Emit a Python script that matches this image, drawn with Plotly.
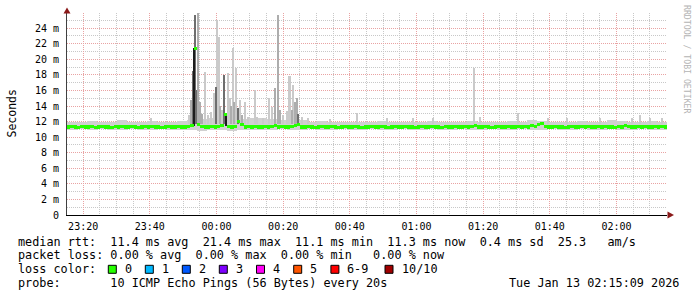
import plotly.graph_objects as go
from datetime import datetime, timedelta

# ---------------- data ----------------
start_time = "2026-01-12 23:15:09"
end_time = "2026-01-13 02:15:09"

# median rtt (ms), one value per minute from 23:15:09
median_rtt = [
    11.3, 11.4, 11.3, 11.2, 11.4, 11.3, 11.3, 11.4, 11.2, 11.3, 11.4, 11.3, 11.3, 11.2, 11.4, 11.3, 11.4, 11.3, 11.3, 11.4,
    11.3, 11.2, 11.3, 11.4, 11.3, 11.4, 11.3, 11.3, 11.2, 11.3, 11.4, 11.3, 11.3, 11.4, 11.3, 11.3, 11.4, 11.5, 21.4, 11.6,
    11.4, 11.3, 11.3, 11.4, 11.3, 11.4, 11.5, 12.9, 11.4, 11.3, 11.4, 12.0, 11.6, 11.3, 11.4, 11.3, 11.4, 11.3, 11.3, 11.4,
    11.3, 11.4, 11.5, 11.3, 11.4, 11.3, 11.3, 11.4, 11.5, 11.6, 11.3, 11.3, 11.4, 11.3, 11.2, 11.3, 11.4, 11.3, 11.3, 11.4,
    11.3, 11.2, 11.3, 11.4, 11.3, 11.3, 11.4, 11.3, 11.2, 11.3, 11.3, 11.4, 11.3, 11.3, 11.4, 11.3, 11.2, 11.3, 11.4, 11.3,
    11.3, 11.4, 11.3, 11.3, 11.2, 11.3, 11.4, 11.3, 11.3, 11.4, 11.3, 11.3, 11.2, 11.4, 11.3, 11.3, 11.4, 11.3, 11.3, 11.4,
    11.3, 11.4, 11.5, 11.3, 11.3, 11.4, 11.3, 11.2, 11.3, 11.4, 11.3, 11.3, 11.4, 11.3, 11.3, 11.4, 11.3, 11.4, 11.3, 11.5,
    11.4, 11.6, 11.7, 11.4, 11.3, 11.3, 11.4, 11.3, 11.3, 11.2, 11.3, 11.4, 11.3, 11.3, 11.4, 11.3, 11.4, 11.3, 11.3, 11.4,
    11.3, 11.4, 11.3, 11.3, 11.2, 11.4, 11.3, 11.5, 11.4, 11.3, 11.3, 11.4, 11.3, 11.4, 11.3, 11.3, 11.4, 11.3, 11.4, 11.3,
]

# background smoke band (ms), one value per 3 minutes
smoke_high = [
    12.0, 11.9, 12.1, 11.9, 12.0, 12.2, 11.9, 12.0, 12.1, 11.9,
    12.0, 12.1, 12.2, 12.3, 12.4, 12.5, 12.4, 12.3, 12.5, 12.4,
    12.3, 12.2, 12.1, 12.2, 12.0, 12.1, 11.9, 12.0, 12.0, 11.9,
    12.0, 12.1, 11.9, 12.0, 11.9, 12.0, 12.1, 12.0, 11.9, 12.0,
    12.1, 12.0, 11.9, 12.0, 12.1, 12.0, 12.2, 12.1, 12.0, 11.9,
    12.0, 12.1, 11.9, 12.0, 12.2, 12.1, 12.0, 11.9, 12.1, 12.0,
]
smoke_low = [
    10.9, 11.0, 10.9, 11.0, 10.9, 10.9, 11.0, 10.9, 10.9, 11.0,
    10.9, 10.9, 10.9, 10.8, 10.9, 10.9, 10.8, 10.9, 10.9, 10.9,
    10.9, 11.0, 10.9, 10.9, 11.0, 10.9, 10.9, 11.0, 10.9, 10.9,
    11.0, 10.9, 10.9, 11.0, 10.9, 10.9, 11.0, 10.9, 10.9, 11.0,
    10.9, 10.9, 11.0, 10.9, 10.9, 11.0, 10.9, 10.9, 11.0, 10.9,
    10.9, 11.0, 10.9, 10.9, 11.0, 10.9, 10.9, 11.0, 10.9, 10.9,
]

# individual smoke spikes: minutes after start, top (ms), shade level (0 light .. 3 black)
spike_minute = [25.4, 36.6, 37.4, 37.8, 38.2, 38.5, 38.9, 39.4, 39.9, 40.6,
                41.6, 42.4, 43.3, 44.1, 44.8, 45.2, 45.6, 46.0, 46.5, 47.3,
                47.6, 48.4, 48.9, 49.2, 49.8, 50.3, 50.8, 51.3, 51.9, 52.5,
                53.4, 54.5, 56.4, 57.2, 58.8, 60.6, 61.7, 62.6, 63.5, 64.0,
                65.0, 66.0, 66.7, 67.1, 67.5, 67.8, 68.4, 69.0, 69.5, 70.5,
                72.5, 79.0, 87.0, 96.0, 104.0, 110.0, 122.1, 124.0, 135.3, 144.3,
                150.0, 160.0, 169.5, 171.9, 175.0, 178.5]
spike_top = [12.5, 12.8, 14.8, 18.5, 21.4, 25.7, 16.0, 25.9, 14.5, 13.0,
             18.4, 12.8, 13.2, 15.7, 16.5, 25.1, 22.9, 14.0, 13.5, 18.0,
             12.9, 18.3, 15.0, 14.0, 21.4, 14.5, 18.9, 13.8, 14.8, 12.8,
             14.5, 12.6, 16.0, 12.6, 12.5, 15.0, 13.9, 16.3, 25.7, 13.5,
             12.8, 13.3, 17.9, 17.9, 13.5, 16.7, 14.5, 15.0, 13.0, 12.6,
             12.4, 12.3, 13.1, 12.4, 12.5, 12.4, 18.9, 12.6, 13.1, 12.5,
             12.4, 12.4, 12.5, 12.9, 12.5, 12.5]
spike_shade = [0, 0, 1, 2, 3, 2, 2, 1, 1, 1,
               0, 0, 0, 0, 2, 0, 0, 1, 0, 2,
               3, 0, 0, 1, 0, 1, 0, 2, 0, 1,
               0, 0, 0, 0, 0, 0, 0, 1, 1, 1,
               0, 0, 0, 0, 1, 0, 1, 1, 2, 0,
               0, 0, 0, 0, 0, 0, 0, 0, 0, 0,
               0, 0, 0, 0, 0, 0]

y_tick_values = [0, 2, 4, 6, 8, 10, 12, 14, 16, 18, 20, 22, 24]
y_tick_text = ["0", "2 m", "4 m", "6 m", "8 m", "10 m", "12 m", "14 m", "16 m", "18 m", "20 m", "22 m", "24 m"]

loss_labels = ["0", "1", "2", "3", "4", "5", "6-9", "10/10"]
loss_colors = ["#26ff00", "#00b8ff", "#0059ff", "#7e00ff", "#ff00f5", "#ff5500", "#ff0000", "#a00000"]

legend_rows = [
    "median rtt:  11.4 ms avg  21.4 ms max  11.1 ms min  11.3 ms now  0.4 ms sd  25.3   am/s",
    "packet loss: 0.00 % avg  0.00 % max  0.00 % min   0.00 % now",
    "loss color:",
    "probe:       10 ICMP Echo Pings (56 Bytes) every 20s",
]
date_text = "Tue Jan 13 02:15:09 2026"
watermark = "RRDTOOL / TOBI OETIKER"

# ---------------- helpers (layout geometry) ----------------
W, H = 697, 297
PL, PR, PT, PB = 67, 667, 13, 215
def px(x):
    return (x - PL) / (PR - PL)
def py(y):
    return (PB - y) / (PB - PT)

t0 = datetime.strptime(start_time, "%Y-%m-%d %H:%M:%S")
t1 = datetime.strptime(end_time, "%Y-%m-%d %H:%M:%S")

MONO = "DejaVu Sans Mono"
shade_colors = ["#cacaca", "#adadad", "#6e6e6e", "#1c1c1c"]
MEDIAN_THICK = 0.4  # ms, drawn thickness of the median band

fig = go.Figure()

# smoke band (bars, so it stays beneath the median in the bar layer)
band_t = [t0 + timedelta(minutes=3 * i + 1.5) for i in range(len(smoke_high))]
fig.add_trace(go.Bar(x=band_t, y=[h - l for h, l in zip(smoke_high, smoke_low)], base=smoke_low,
                     width=180000, marker=dict(color="#d0d0d0", line=dict(width=0)),
                     hoverinfo="skip", showlegend=False))

# spikes per shade
for level in range(4):
    xs, tops, bases = [], [], []
    for m, top, s in zip(spike_minute, spike_top, spike_shade):
        if s == level:
            xs.append(t0 + timedelta(minutes=m))
            base = 11.4 if level == 3 else 11.7
            bases.append(base)
            tops.append(top - base)
    fig.add_trace(go.Bar(x=xs, y=tops, base=bases, width=26000 if level < 3 else 40000,
                         marker=dict(color=shade_colors[level], line=dict(width=0)),
                         hoverinfo="skip", showlegend=False))

# median drawn as a thin band per step (no vertical connectors, like smokeping)
med_t = [t0 + timedelta(minutes=i + 0.5) for i in range(len(median_rtt))]
fig.add_trace(go.Bar(x=med_t, y=[MEDIAN_THICK] * len(median_rtt),
                     base=[v - MEDIAN_THICK / 2 for v in median_rtt], width=60000,
                     marker=dict(color=loss_colors[0], line=dict(width=0)),
                     hoverinfo="skip", showlegend=False))

# ---------------- layout ----------------
major_grid = "#e9a3a3"
minor_grid = "#c8c8c8"
fig.update_layout(
    width=W, height=H, margin=dict(l=PL, r=W - PR, t=PT, b=H - PB),
    paper_bgcolor="white", plot_bgcolor="white", barmode="overlay", bargap=0,
    font=dict(family=MONO, size=10, color="#000"),
    showlegend=False,
    xaxis=dict(
        type="date", range=[t0, t1], tickformat="%H:%M",
        tick0="2026-01-12 23:20:00", dtick=20 * 60 * 1000,
        showgrid=True, gridcolor=major_grid, griddash="1px,1px", gridwidth=1,
        minor=dict(dtick=5 * 60 * 1000, tick0="2026-01-12 23:20:00", showgrid=True,
                   gridcolor=minor_grid, griddash="1px,1px", gridwidth=1),
        showline=True, linecolor="#000", linewidth=1, zeroline=False,
        ticks="", tickfont=dict(family=MONO, size=10, color="#000"),
        ticklabelstandoff=2,
    ),
    yaxis=dict(
        range=[0, 25.95], tickmode="array", tickvals=y_tick_values, ticktext=y_tick_text,
        showgrid=True, gridcolor=major_grid, griddash="1px,1px", gridwidth=1,
        minor=dict(tickmode="array", tickvals=[v + 1 for v in y_tick_values], showgrid=True,
                   gridcolor=minor_grid, griddash="1px,1px", gridwidth=1),
        showline=True, linecolor="#404040", linewidth=1, zeroline=False,
        ticks="", tickfont=dict(family=MONO, size=10, color="#000"),
        ticklabelstandoff=5,
    ),
)

# axis arrows
arrow_col = "#8b1a1a"
fig.add_shape(type="path", xref="paper", yref="paper",
              path=f"M {px(63.5)} {py(13.5)} L {px(70.5)} {py(13.5)} L {px(67)} {py(7.5)} Z",
              fillcolor=arrow_col, line=dict(width=0))
fig.add_shape(type="path", xref="paper", yref="paper",
              path=f"M {px(667.5)} {py(211.5)} L {px(667.5)} {py(218.5)} L {px(674)} {py(215)} Z",
              fillcolor=arrow_col, line=dict(width=0))

def nb(s):
    return s.replace(" ", "\u00a0")

# y axis title
fig.add_annotation(text="Seconds", xref="paper", yref="paper", x=px(11), y=py(113.5),
                   showarrow=False, textangle=-90, font=dict(family=MONO, size=11.5, color="#000"),
                   xanchor="center", yanchor="middle")
# watermark
fig.add_annotation(text=nb(watermark), xref="paper", yref="paper", x=px(687), y=py(59),
                   showarrow=False, textangle=90, font=dict(family=MONO, size=8.2, color="#b4b4b4"),
                   xanchor="center", yanchor="middle")

row_y = [241.7, 255.2, 269.2, 282.7]
for r, txt in enumerate(legend_rows):
    fig.add_annotation(text=nb(txt), xref="paper", yref="paper", x=px(16), y=py(row_y[r]),
                       showarrow=False, xanchor="left", yanchor="middle",
                       font=dict(family=MONO, size=11.8, color="#000"))
fig.add_annotation(text=nb(date_text), xref="paper", yref="paper", x=px(680.5), y=py(row_y[3]),
                   showarrow=False, xanchor="right", yanchor="middle",
                   font=dict(family=MONO, size=11.8, color="#000"))

# loss colour boxes
box_x = [108.3, 145.3, 182.3, 219.3, 256.5, 293.7, 330.9, 385.0]
for bx, lab, col in zip(box_x, loss_labels, loss_colors):
    fig.add_shape(type="rect", xref="paper", yref="paper",
                  x0=px(bx), x1=px(bx + 8), y0=py(265.3), y1=py(273.3),
                  fillcolor=col, line=dict(color="#000", width=1))
    fig.add_annotation(text=nb(lab), xref="paper", yref="paper", x=px(bx + 14.5), y=py(row_y[2]),
                       showarrow=False, xanchor="left", yanchor="middle",
                       font=dict(family=MONO, size=11.8, color="#000"))

fig.write_html("out.html")
